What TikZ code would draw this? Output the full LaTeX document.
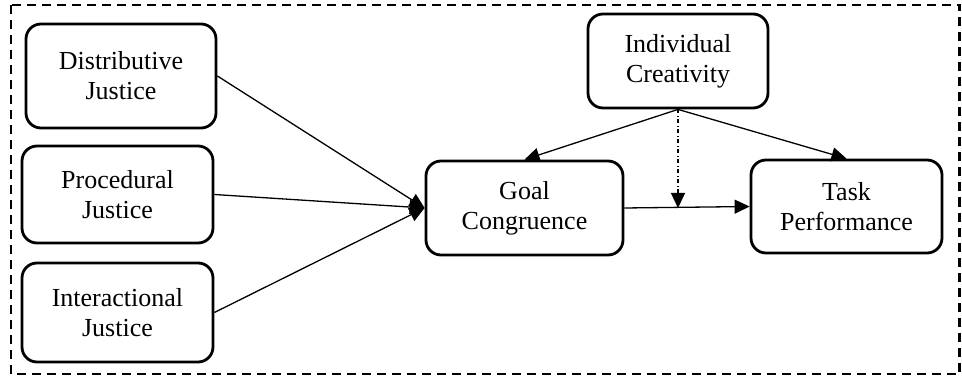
\documentclass[tikz,border=0pt]{standalone}
\usepackage{fontspec}
\setmainfont{Liberation Serif}
\usetikzlibrary{arrows.meta}
\begin{document}
\begin{tikzpicture}[x=1pt,y=-1pt,
  box/.style={draw, line width=2.8pt, rounded corners=15pt, inner sep=0pt, align=center,
    font=\fontsize{26}{30}\selectfont},
  conn/.style={line width=1.3pt, -{Triangle[length=15pt,width=14pt]}},
  modline/.style={line width=1.3pt, dash pattern=on 4pt off 2.5pt on 1pt off 2.5pt,
    -{Triangle[length=15pt,width=14pt]}}
]
\useasboundingbox (0,0) rectangle (962,377);
\draw[line width=2.8pt, dash pattern=on 9pt off 6pt] (11,5) rectangle (959.5,374);

\node[box, minimum width=190pt, minimum height=104pt] (dj) at (121,76) {Distributive\\Justice};
\node[box, minimum width=191pt, minimum height=97pt] (pj) at (117.5,194.5) {Procedural\\Justice};
\node[box, minimum width=191pt, minimum height=99pt] (ij) at (117.5,312.5) {Interactional\\Justice};
\node[box, minimum width=197pt, minimum height=94pt] (gc) at (524.5,208) {Goal\\Congruence};
\node[box, minimum width=180pt, minimum height=94pt] (ic) at (678,61) {Individual\\Creativity};
\node[box, minimum width=191pt, minimum height=93pt] (tp) at (846.5,206.5) {Task\\Performance};

\draw[conn] (dj.east) -- (gc.west);
\draw[conn] (pj.east) -- (gc.west);
\draw[conn] (ij.east) -- (gc.west);
\draw[conn] (ic.south) -- (gc.north);
\draw[conn] (ic.south) -- (tp.north);
\draw[conn] (gc.east) -- (tp.west);
\coordinate (mod) at (ic.south |- gc.east);
\draw[modline] (ic.south) -- (mod);
\end{tikzpicture}
\end{document}
